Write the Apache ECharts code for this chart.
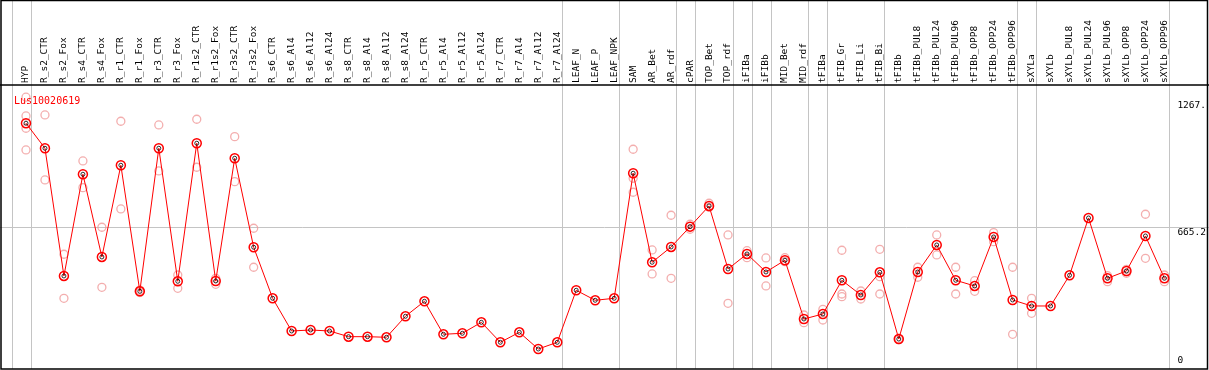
<!DOCTYPE html>
<html>
<head>
<meta charset="utf-8">
<script src="https://cdn.jsdelivr.net/npm/echarts/dist/echarts.min.js"></script>
<style>
html,body{margin:0;padding:0;background:#fff;}
#chart{width:1209px;height:370px;}
</style>
</head>
<body>
<div id="chart"></div>
<script>
const geneId = 'Lus10020619';
const categories = ['HYP','R_s2_CTR','R_s2_Fox','R_s4_CTR','R_s4_Fox','R_r1_CTR','R_r1_Fox','R_r3_CTR','R_r3_Fox','R_r1s2_CTR','R_r1s2_Fox','R_r3s2_CTR','R_r3s2_Fox','R_s6_CTR','R_s6_Al4','R_s6_Al12','R_s6_Al24','R_s8_CTR','R_s8_Al4','R_s8_Al12','R_s8_Al24','R_r5_CTR','R_r5_Al4','R_r5_Al12','R_r5_Al24','R_r7_CTR','R_r7_Al4','R_r7_Al12','R_r7_Al24','LEAF_N','LEAF_P','LEAF_NPK','SAM','AR_Bet','AR_rdf','cPAR','TOP_Bet','TOP_rdf','iFIBa','iFIBb','MID_Bet','MID_rdf','tFIBa','tFIB_Gr','tFIB_Li','tFIB_Bi','tFIBb','tFIBb_PUL8','tFIBb_PUL24','tFIBb_PUL96','tFIBb_OPP8','tFIBb_OPP24','tFIBb_OPP96','sXYLa','sXYLb','sXYLb_PUL8','sXYLb_PUL24','sXYLb_PUL96','sXYLb_OPP8','sXYLb_OPP24','sXYLb_OPP96'];
const means = [1181.4,1057.1,422.5,927.9,516.9,972.6,346.4,1057.1,396.1,1082.0,397.6,1007.4,565.1,311.6,149.1,154.1,149.1,120.8,120.8,117.8,222.2,296.7,132.7,137.7,192.3,92.9,142.6,59.6,92.9,351.4,301.7,311.6,932.9,490.5,566.6,667.5,770.4,457.2,531.8,442.3,500.5,208.7,233.6,401.1,328.0,440.8,109.3,442.3,576.5,401.1,372.8,616.3,303.2,273.4,273.4,425.9,710.7,411.0,447.3,621.3,411.0];
const rep1 = [1310.6,1222.6,530.3,994.0,664.5,1191.3,352.0,1172.9,427.4,1201.2,411.0,1114.8,659.5,null,null,null,null,null,null,null,null,null,null,null,null,null,null,null,null,null,null,null,1052.1,551.7,724.1,679.4,783.8,626.2,548.2,511.9,513.4,228.6,257.0,550.2,347.9,555.1,112.0,465.7,626.2,465.7,399.1,637.7,465.7,311.6,null,null,null,423.9,455.7,729.1,427.4];
const rep2 = [1217.7,899.6,311.6,861.3,366.3,755.4,340.0,944.3,361.3,962.7,381.2,891.1,465.7,null,null,null,null,null,null,null,null,null,null,null,null,null,null,null,null,null,null,null,908.0,432.4,411.0,654.5,763.9,286.8,513.4,372.8,493.5,190.4,203.8,333.0,308.1,419.0,106.0,416.0,526.8,333.0,346.4,592.9,132.7,237.1,null,null,null,394.1,435.9,510.4,394.1];
const rep3 = [1156.5,null,null,null,null,null,null,null,null,null,null,null,null,null,null,null,null,null,null,null,null,null,null,null,null,null,null,null,null,null,null,null,838.4,null,null,null,null,null,null,null,null,null,null,319.6,null,333.0,null,null,null,null,null,null,null,null,null,null,null,null,null,null,null];
const rep4 = [1048.7,null,null,null,null,null,null,null,null,null,null,null,null,null,null,null,null,null,null,null,null,null,null,null,null,null,null,null,null,null,null,null,null,null,null,null,null,null,null,null,null,null,null,null,null,null,null,null,null,null,null,null,null,null,null,null,null,null,null,null,null];
const separatorAfter = [-1,0,28,31,34,35,37,38,39,41,42,45,52,53,60];
const yTickValues = [0, 665.2, 1267];
const yTickLabels = ['0', '665.2', '1267.'];
const referenceValue = 665.2;

const FONT = 'DejaVu Sans Mono';
const REP_COLOR = '#f09a9a';
const repSeries = [rep1, rep2, rep3, rep4].map(function (r) {
  return {
    type: 'scatter', xAxisIndex: 0, yAxisIndex: 0, clip: false,
    symbol: 'circle', symbolSize: 8, z: 3,
    itemStyle: {color: 'rgba(0,0,0,0)', borderColor: REP_COLOR, borderWidth: 1.3},
    data: r.map(function (v) { return v == null ? '-' : v; }),
    silent: true
  };
});

const chart = echarts.init(document.getElementById('chart'), null, {renderer: 'canvas'});
chart.setOption({
  backgroundColor: '#fff',
  animation: false,
  title: {
    text: geneId, left: 9, top: 91,
    textStyle: {color: '#ff0000', fontFamily: FONT, fontSize: 10, fontWeight: 'normal'}
  },
  grid: {left: 16.5, right: 33.5, top: 106, bottom: 9},
  xAxis: [{
    type: 'category', data: categories, position: 'top', offset: 21,
    boundaryGap: true,
    axisLine: {show: false}, axisTick: {show: false}, splitLine: {show: false},
    axisLabel: {interval: 0, rotate: 90, margin: 2, color: '#000', fontFamily: FONT, fontSize: 9.5}
  }, {
    type: 'value', min: -0.5, max: 60.5, show: false
  }],
  yAxis: {
    type: 'value', min: 0, max: 1267, position: 'right',
    axisLine: {show: false}, axisTick: {show: false}, splitLine: {show: false},
    axisLabel: {
      customValues: yTickValues, margin: 3.5, color: '#000', fontFamily: FONT, fontSize: 9.5,
      lineHeight: 10,
      formatter: function (v) {
        let i = 0;
        yTickValues.forEach(function (t, k) { if (Math.abs(t - v) < 0.01) i = k; });
        return (yTickValues[i] === referenceValue ? '\n' : '') + yTickLabels[i];
      }
    }
  },
  series: [{
    type: 'custom', xAxisIndex: 1, yAxisIndex: 0, clip: false, silent: true, z: 1,
    data: separatorAfter.map(function (k) { return [k + 0.24, 0]; }),
    renderItem: function (params, api) {
      const x = Math.round(api.coord([api.value(0), 0])[0]) + 0.5;
      return {type: 'line', shape: {x1: x, y1: 0, x2: x, y2: 369}, style: {stroke: '#c4c4c4', lineWidth: 1}};
    }
  }, {
    type: 'custom', xAxisIndex: 1, yAxisIndex: 0, clip: false, silent: true, z: 1,
    data: [[0, referenceValue]],
    renderItem: function (params, api) {
      const y = Math.round(api.coord([0, api.value(1)])[1]) + 0.5;
      return {type: 'line', shape: {x1: 0, y1: y, x2: 1209, y2: y}, style: {stroke: '#c4c4c4', lineWidth: 1}};
    }
  }].concat(repSeries).concat([{
    type: 'line', xAxisIndex: 0, yAxisIndex: 0, clip: false, z: 5,
    data: means, symbol: 'circle', symbolSize: 9,
    lineStyle: {color: '#ff0000', width: 1},
    itemStyle: {color: 'rgba(0,0,0,0)', borderColor: '#ff0000', borderWidth: 1.5},
    silent: true
  }, {
    type: 'scatter', xAxisIndex: 0, yAxisIndex: 0, clip: false, z: 6,
    data: means, symbol: 'circle', symbolSize: 4,
    itemStyle: {color: 'rgba(0,0,0,0)', borderColor: '#000', borderWidth: 1},
    silent: true
  }]),
  graphic: [
    {type: 'rect', z: 100, shape: {x: 1, y: 0.5, width: 1206.5, height: 368.5}, style: {fill: null, stroke: '#000', lineWidth: 1.5}},
    {type: 'line', z: 100, shape: {x1: 0, y1: 85, x2: 1209, y2: 85}, style: {stroke: '#000', lineWidth: 1.5}}
  ]
});
</script>
</body>
</html>
